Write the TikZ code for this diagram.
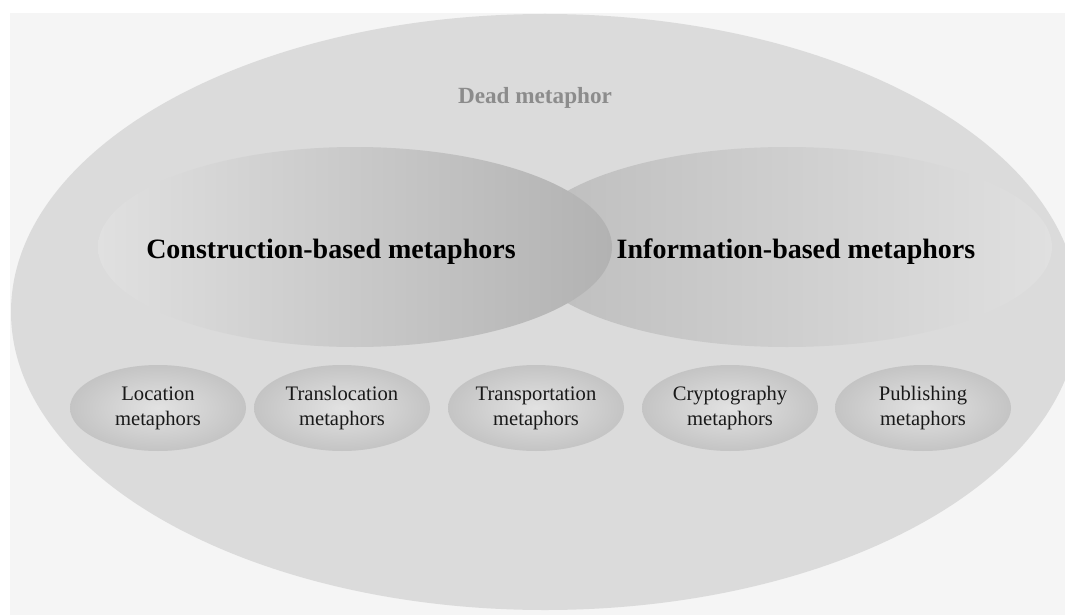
\documentclass[tikz,border=0pt]{standalone}
\usepackage{fontspec}
\setmainfont{Liberation Serif}
\definecolor{papier}{HTML}{F5F5F5}
\definecolor{grandfond}{HTML}{DBDBDB}
\definecolor{lenteclair}{HTML}{E0E0E0}
\definecolor{lentesombre}{HTML}{B2B2B2}
\definecolor{lentemoyen}{HTML}{BDBDBD}
\definecolor{bullecentre}{HTML}{E2E2E2}
\definecolor{bullebord}{HTML}{C4C4C4}
\definecolor{grisfond}{HTML}{8C8C8C}
\begin{document}
\begin{tikzpicture}[x=1pt,y=-1pt]
			\tikzstyle{titre}=[font=\fontsize{28}{31}\selectfont\bfseries,text=black]
			\tikzstyle{fond}=[font=\fontsize{23.2}{26}\selectfont\bfseries,text=grisfond]
			\tikzstyle{petit}=[font=\fontsize{20.6}{25}\selectfont,align=center,text=black!90]
			\tikzstyle{bulle}=[inner color=bullecentre,outer color=bullebord]
			\def\NiveauTitres{247}
			\def\NiveauBulles{408}
			\def\RayonBulleX{88pt}
			\def\RayonBulleY{43pt}
			\useasboundingbox (0,0) rectangle (1065,615);
			\fill[white] (0,0) rectangle (1065,615);
			\clip (10,13) rectangle (1065,615);
			\fill[papier] (10,13) rectangle (1065,615);
			% grande ellipse
			\fill[grandfond] (545,312) ellipse [x radius=534pt, y radius=298pt];
			% les deux lentilles
			\shade[left color=lentemoyen,right color=lenteclair] (787,\NiveauTitres) ellipse [x radius=265pt, y radius=100pt];
			\shade[left color=lenteclair,right color=lentesombre] (355,\NiveauTitres) ellipse [x radius=257pt, y radius=100pt];
			% petites bulles
			\foreach \x in {158,342,536,730,923}
				\shade[bulle] (\x,\NiveauBulles) ellipse [x radius=\RayonBulleX, y radius=\RayonBulleY];
			\node[fond] (Mort) at (535,98) {Dead metaphor};
			\node[titre] (Construction) at (331,252) {Construction-based metaphors};
			\node[titre] (Information) at (796,252) {Information-based metaphors};
			\node[petit] (Location) at (158,\NiveauBulles) {Location\\metaphors};
			\node[petit] (Translocation) at (342,\NiveauBulles) {Translocation\\metaphors};
			\node[petit] (Transportation) at (536,\NiveauBulles) {Transportation\\metaphors};
			\node[petit] (Cryptography) at (730,\NiveauBulles) {Cryptography\\metaphors};
			\node[petit] (Publishing) at (923,\NiveauBulles) {Publishing\\metaphors};
		\end{tikzpicture}
\end{document}
